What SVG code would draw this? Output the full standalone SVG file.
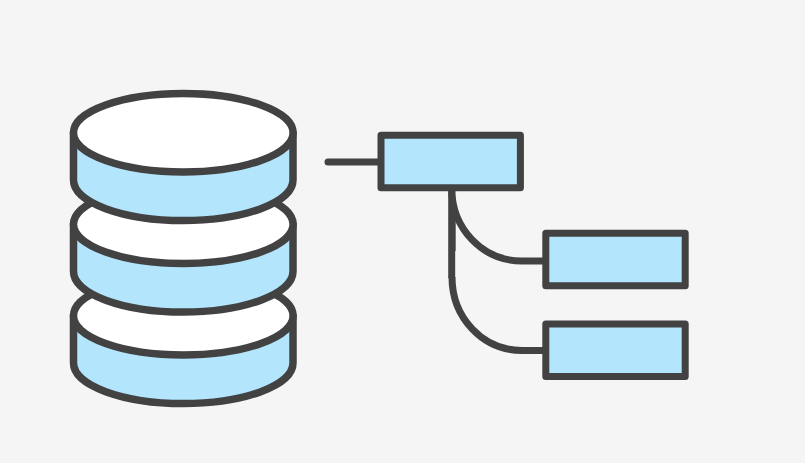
<svg xmlns="http://www.w3.org/2000/svg" width="805" height="463" viewBox="0 0 805 463">
<style>
.s{stroke:#424242;stroke-width:7.5;stroke-linejoin:round;stroke-linecap:round}
.b{fill:#b3e5fc}.w{fill:#fff}.n{fill:none}
.t{stroke:#424242;stroke-width:7;stroke-linejoin:round;stroke-linecap:round}
.c{stroke-linecap:butt}
</style>
<rect width="805" height="463" fill="#f5f5f5"/>
<g id="db-bottom">
<path class="s b" d="M73.5 315.75V363C73.5 385.4 122.7 403.5 183.3 403.5S293 385.4 293 363V315.75Z"/>
<ellipse class="s w" cx="183.3" cy="315.75" rx="109.8" ry="39.25"/>
</g>
<g id="db-middle">
<path class="s b" d="M73.5 224.25V271.5C73.5 293.9 122.7 312 183.3 312S293 293.9 293 271.5V224.25Z"/>
<ellipse class="s w" cx="183.3" cy="224.25" rx="109.8" ry="39.25"/>
</g>
<g id="db-top">
<path class="s b" d="M73.5 132.75V180C73.5 202.4 122.7 220.5 183.3 220.5S293 202.4 293 180V132.75Z"/>
<ellipse class="s w" cx="183.3" cy="132.75" rx="109.8" ry="39.25"/>
</g>
<g id="connectors">
<path class="t n" d="M328 162H381"/>
<path class="t n c" d="M451.7 188V278"/>
<path class="t n c" d="M451.7 188C451.7 229 483 261 522 261H546"/>
<path class="t n c" d="M452 277C452 318 483 350.5 522 350.5H546"/>
<path fill="none" stroke="#424242" stroke-width="0.7" d="M455.4 218V251"/>
</g>
<g id="node-root"><rect class="t b" x="381" y="135.3" width="139.4" height="52.4"/></g>
<g id="node-a"><rect class="t b" x="545.8" y="233.3" width="139.4" height="52.4"/></g>
<g id="node-b"><rect class="t b" x="545.8" y="324" width="139.4" height="52.4"/></g>
</svg>
